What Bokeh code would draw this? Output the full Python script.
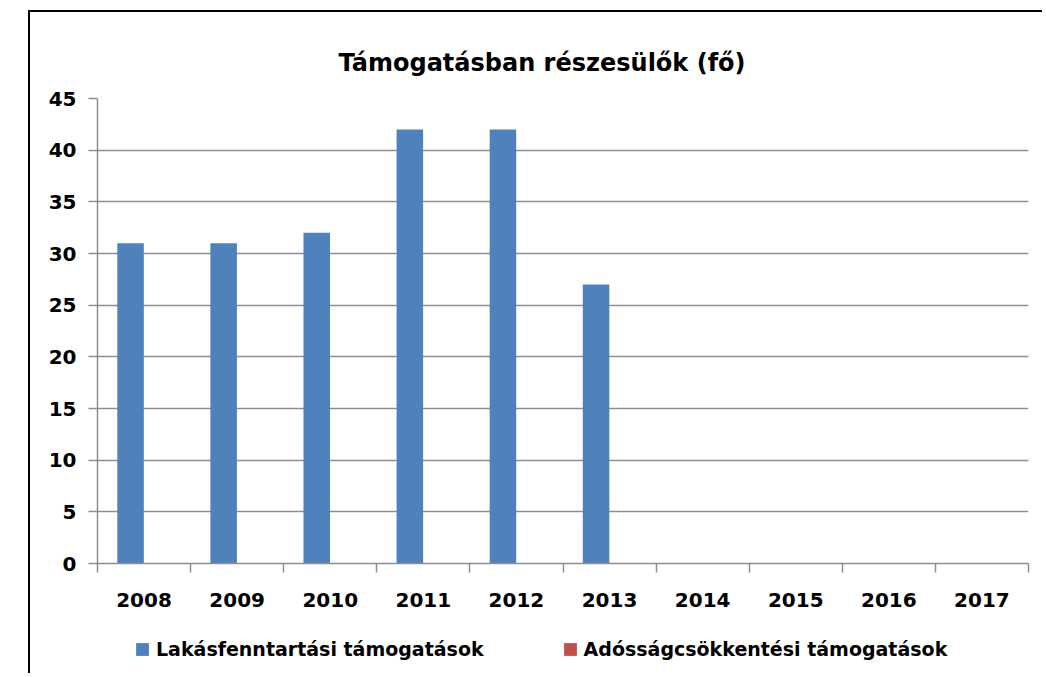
from bokeh.plotting import figure
from bokeh.layouts import column
from bokeh.models import (Range1d, LinearAxis, FixedTicker, Legend, LegendItem, ColumnDataSource)
from bokeh.transform import dodge
from bokeh.embed import file_html
from bokeh.resources import INLINE

nan = float("nan")
years = ["2008", "2009", "2010", "2011", "2012", "2013", "2014", "2015", "2016", "2017"]
lakasfenntartasi = [31, 31, 32, 42, 42, 27, nan, nan, nan, nan]
adossagcsokkentesi = [0, 0, 0, 0, 0, 0, nan, nan, nan, nan]
y_ticks = [0, 5, 10, 15, 20, 25, 30, 35, 40, 45]
title_text = "Támogatásban részesülők (fő)"
series_names = ["Lakásfenntartási támogatások", "Adósságcsökkentési támogatások"]
colors = ["#4F81BD", "#C0504D"]

FONT = "DejaVu Sans"
GRAY = "#8e8e8e"

# category slots on a numeric axis: centre of slot i is i + 0.5
centers = [i + 0.5 for i in range(len(years))]
edges = list(range(len(years) + 1))

src = ColumnDataSource(dict(pos=centers, year=years, a=lakasfenntartasi, b=adossagcsokkentesi))

p = figure(width=1014, height=608, x_range=Range1d(0, len(years)), y_range=Range1d(0, 45),
           output_backend="svg", toolbar_location=None, x_axis_location=None,
           min_border_left=67, min_border_right=16, min_border_top=86, min_border_bottom=57,
           margin=(10, 0, 0, 28))
p.styles = {"border-left": "2px solid #000", "border-top": "2px solid #000"}
p.outline_line_color = None
p.background_fill_color = "white"
p.border_fill_color = "white"

p.title.text = title_text
p.title.text_font = FONT
p.title.text_font_size = "24px"
p.title.text_font_style = "bold"
p.title.text_color = "black"
p.title.align = "left"
p.title.offset = 241
p.title.standoff = 43

bw = 0.285
r1 = p.vbar(x=dodge("pos", -0.145), top="a", width=bw, source=src,
            fill_color=colors[0], line_color=None)
r2 = p.vbar(x=dodge("pos", 0.145), top="b", width=bw, source=src,
            fill_color=colors[1], line_color=None)

ya = p.yaxis[0]
ya.ticker = FixedTicker(ticks=y_ticks)
ya.major_label_text_font = FONT
ya.major_label_text_font_size = "20px"
ya.major_label_text_font_style = "bold"
ya.major_label_text_color = "black"
ya.major_tick_out = 9
ya.major_tick_in = 0
ya.minor_tick_out = 0
ya.minor_tick_in = 0
ya.major_label_standoff = 12
ya.axis_line_color = GRAY
ya.axis_line_width = 1.5
ya.major_tick_line_color = GRAY
ya.major_tick_line_width = 1.5

p.ygrid.ticker = FixedTicker(ticks=y_ticks)
p.ygrid.grid_line_color = GRAY
p.ygrid.grid_line_width = 1.5

xa = LinearAxis(ticker=FixedTicker(ticks=centers, minor_ticks=edges))
xa.major_label_overrides = {c: y for c, y in zip(centers, years)}
xa.major_tick_out = 0
xa.major_tick_in = 0
xa.minor_tick_out = 9
xa.minor_tick_in = 0
xa.minor_tick_line_color = GRAY
xa.minor_tick_line_width = 1.5
xa.axis_line_color = GRAY
xa.axis_line_width = 1.5
xa.major_label_standoff = 20
xa.major_label_text_font = FONT
xa.major_label_text_font_size = "20px"
xa.major_label_text_font_style = "bold"
xa.major_label_text_color = "black"
p.add_layout(xa, "below")
p.xgrid.grid_line_color = None

# legend strip under the chart (same series styles)
lf = figure(width=1014, height=55, x_range=Range1d(0, 1), y_range=Range1d(0, 1),
            output_backend="svg", toolbar_location=None, x_axis_location=None, y_axis_location=None,
            min_border=0, margin=(0, 0, 0, 28))
lf.styles = {"border-left": "2px solid #000"}
lf.outline_line_color = None
lf.grid.visible = False
proxy = ColumnDataSource(dict(x=[nan], top=[nan]))
l1 = lf.vbar(x="x", top="top", width=0.1, source=proxy, fill_color=colors[0], line_color=None)
l2 = lf.vbar(x="x", top="top", width=0.1, source=proxy, fill_color=colors[1], line_color=None)

legend = Legend(items=[LegendItem(label=series_names[0], renderers=[l1]),
                       LegendItem(label=series_names[1], renderers=[l2])],
                orientation="horizontal", location=(37, 13))
legend.label_text_font = FONT
legend.label_text_font_size = "19px"
legend.label_text_font_style = "bold"
legend.label_text_color = "black"
legend.glyph_width = 16
legend.glyph_height = 16
legend.label_standoff = 6
legend.spacing = 78
legend.padding = 0
legend.margin = 0
legend.border_line_color = None
legend.background_fill_alpha = 0
lf.add_layout(legend)

layout = column(p, lf, spacing=0)
open("out.html", "w").write(file_html(layout, INLINE))
